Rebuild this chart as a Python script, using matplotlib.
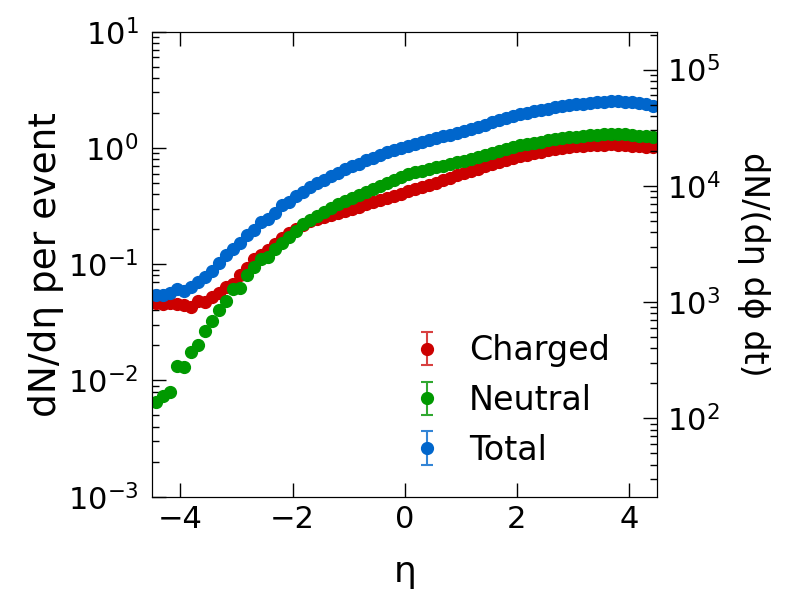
import matplotlib
matplotlib.use("Agg")
import matplotlib.pyplot as plt
import numpy as np

ETA = np.arange(-4.4375, 4.5, 0.125)

CHARGED = [0.0460, 0.0454, 0.0467, 0.0454, 0.0443, 0.0431, 0.0479, 0.0472, 0.0518, 0.0568,
           0.0631, 0.0675, 0.0811, 0.0925, 0.1100, 0.1199, 0.1323, 0.1490, 0.1666, 0.1839,
           0.1991, 0.2169, 0.2347, 0.2441, 0.2523, 0.2625, 0.2731, 0.2860, 0.2995, 0.3115,
           0.3284, 0.3416, 0.3554, 0.3722, 0.3898, 0.4055, 0.4275, 0.4447, 0.4626, 0.4813,
           0.5040, 0.5278, 0.5564, 0.5826, 0.6100, 0.6389, 0.6647, 0.6963, 0.7244, 0.7534,
           0.7837, 0.8152, 0.8482, 0.8764, 0.9060, 0.9301, 0.9550, 0.9804, 1.0000, 1.0200,
           1.0335, 1.0471, 1.0541, 1.0611, 1.0681, 1.0752, 1.0681, 1.0611, 1.0471, 1.0335,
           1.0267, 1.0133]

NEUTRAL = [0.00647, 0.00729, 0.00789, 0.01337, 0.01318, 0.01762, 0.02037, 0.02685, 0.03266, 0.04036,
           0.04853, 0.06067, 0.06223, 0.07998, 0.09484, 0.1100, 0.1145, 0.1358, 0.1529, 0.1700,
           0.1940, 0.2212, 0.2394, 0.2591, 0.2822, 0.3055, 0.3284, 0.3484, 0.3722, 0.3950,
           0.4191, 0.4447, 0.4718, 0.5007, 0.5348, 0.5673, 0.5981, 0.6182, 0.6389, 0.6603,
           0.6823, 0.7053, 0.7290, 0.7534, 0.7785, 0.8099, 0.8425, 0.8764, 0.9118, 0.9487,
           0.9869, 1.0200, 1.0541, 1.0822, 1.1110, 1.1332, 1.1635, 1.1867, 1.2106, 1.2348,
           1.2511, 1.2676, 1.2844, 1.3014, 1.3100, 1.3187, 1.3187, 1.3100, 1.2929, 1.2759,
           1.2592, 1.2427]

TOTAL = [0.0540, 0.0540, 0.0569, 0.0616, 0.0592, 0.0641, 0.0708, 0.0771, 0.0879, 0.1017,
         0.1199, 0.1341, 0.1510, 0.1780, 0.1965, 0.2301, 0.2426, 0.2767, 0.3220, 0.3439,
         0.3847, 0.4191, 0.4626, 0.5007, 0.5348, 0.5710, 0.6100, 0.6603, 0.6963, 0.7337,
         0.7837, 0.8260, 0.8651, 0.9180, 0.9550, 1.0000, 1.0335, 1.0752, 1.1183, 1.1635,
         1.2106, 1.2592, 1.3014, 1.3451, 1.3903, 1.4463, 1.5146, 1.5860, 1.6609, 1.7394,
         1.8095, 1.8824, 1.9454, 2.0107, 2.0643, 2.1195, 2.1760, 2.2343, 2.2790, 2.3245,
         2.3708, 2.4022, 2.4341, 2.4660, 2.4987, 2.5152, 2.5152, 2.4987, 2.4660, 2.4178,
         2.3708, 2.3085]

LABELS = ["Charged", "Neutral", "Total"]
COLORS = ["#CC0000", "#009900", "#0066CC"]
ERR_COLORS = ["#D84040", "#30A830", "#3385D6"]

# right axis is the same curve in absolute units
RIGHT_SCALE = 21150

plt.rcParams['font.family'] = ['DejaVu Sans']

fig = plt.figure(figsize=(7.9, 5.89), dpi=100)
ax = fig.add_axes([0.193, 0.1567, 0.8316 - 0.193, 0.9462 - 0.1567])

for vals, lab, col, ecol in zip([CHARGED, NEUTRAL, TOTAL], LABELS, COLORS, ERR_COLORS):
    ax.errorbar(ETA, vals, yerr=np.zeros(len(vals)), fmt='o', ms=8.5, color=col,
                ecolor=ecol, elinewidth=1.5, capsize=4, capthick=1.5, label=lab)

ax.set_yscale('log')
ax.set_xlim(-4.5, 4.5)
ax.set_ylim(1e-3, 1e1)
ax.set_xticks([-4, -2, 0, 2, 4])

ax.tick_params(axis='both', which='both', direction='in', labelsize=22)
ax.tick_params(axis='x', which='major', length=10, width=1, top=True, pad=6)
ax.tick_params(axis='y', which='major', length=10, width=1, right=False, pad=10)
ax.tick_params(axis='y', which='minor', length=5, width=1, right=False)

ax.set_xlabel("η", fontsize=26, labelpad=15)
ax.set_ylabel("dN/dη per event", fontsize=27, labelpad=3)

ax2 = ax.twinx()
ax2.set_yscale('log')
ax2.set_ylim(1e-3 * RIGHT_SCALE, 1e1 * RIGHT_SCALE)
ax2.tick_params(axis='y', which='both', direction='in', labelsize=22, pad=7)
ax2.tick_params(axis='y', which='major', length=10, width=1)
ax2.tick_params(axis='y', which='minor', length=5, width=1)
ax2.set_ylabel("dN/(dη dϕ dt)", fontsize=24, rotation=270, labelpad=36)

ax.legend(loc='upper left', bbox_to_anchor=(0.479, 0.349), frameon=False, fontsize=24,
          borderpad=0, borderaxespad=0, handlelength=2.0, handletextpad=0.25,
          labelspacing=0.5)

fig.savefig("out.png", dpi=100)
